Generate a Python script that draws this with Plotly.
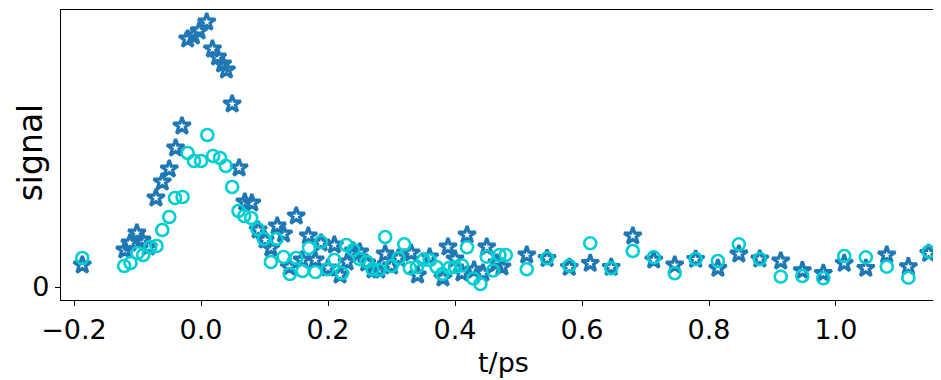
import plotly.graph_objects as go

# star series (t in ps, signal in arbitrary units)
star_t = [-0.187, -0.120, -0.112, -0.101, -0.093, -0.083, -0.071, -0.061, -0.050, -0.040,
          -0.030, -0.021, -0.012, -0.003, 0.009, 0.018, 0.026, 0.034, 0.040, 0.049,
          0.060, 0.069, 0.080, 0.090, 0.101, 0.110, 0.120, 0.130, 0.139, 0.150,
          0.159, 0.169, 0.180, 0.189, 0.200, 0.210, 0.219, 0.230, 0.240, 0.250,
          0.261, 0.271, 0.280, 0.290, 0.300, 0.311, 0.331, 0.341, 0.360, 0.381,
          0.389, 0.400, 0.411, 0.419, 0.430, 0.444, 0.450, 0.466, 0.474, 0.513,
          0.545, 0.580, 0.613, 0.646, 0.680, 0.713, 0.746, 0.779, 0.814, 0.847,
          0.880, 0.913, 0.947, 0.980, 1.013, 1.047, 1.080, 1.114, 1.146]
star_y = [0.22, 0.37, 0.44, 0.54, 0.47, 0.40, 0.89, 1.05, 1.18, 1.39,
          1.61, 2.48, 2.51, 2.56, 2.65, 2.38, 2.30, 2.23, 2.17, 1.83,
          1.19, 0.85, 0.84, 0.57, 0.47, 0.39, 0.61, 0.53, 0.20, 0.71,
          0.27, 0.51, 0.27, 0.44, 0.19, 0.42, 0.12, 0.25, 0.36, 0.35,
          0.24, 0.17, 0.17, 0.33, 0.21, 0.29, 0.34, 0.12, 0.30, 0.09,
          0.40, 0.28, 0.14, 0.52, 0.17, 0.14, 0.40, 0.24, 0.20, 0.32,
          0.285, 0.197, 0.237, 0.197, 0.51, 0.27, 0.22, 0.277, 0.187, 0.33,
          0.28, 0.26, 0.163, 0.137, 0.237, 0.187, 0.32, 0.203, 0.337]

# circle series
circ_t = [-0.187, -0.121, -0.111, -0.100, -0.091, -0.080, -0.070, -0.061, -0.050, -0.041,
          -0.029, -0.021, -0.011, 0.000, 0.010, 0.019, 0.030, 0.039, 0.049, 0.059,
          0.068, 0.079, 0.089, 0.099, 0.110, 0.119, 0.130, 0.140, 0.150, 0.160,
          0.170, 0.180, 0.189, 0.199, 0.210, 0.222, 0.229, 0.240, 0.250, 0.261,
          0.270, 0.280, 0.290, 0.300, 0.311, 0.320, 0.329, 0.340, 0.350, 0.360,
          0.371, 0.380, 0.391, 0.400, 0.411, 0.419, 0.429, 0.440, 0.450, 0.460,
          0.470, 0.480, 0.513, 0.545, 0.580, 0.613, 0.646, 0.680, 0.713, 0.746,
          0.779, 0.814, 0.847, 0.880, 0.913, 0.947, 0.980, 1.013, 1.047, 1.080,
          1.114, 1.146]
circ_y = [0.29, 0.21, 0.24, 0.34, 0.32, 0.40, 0.41, 0.57, 0.70, 0.89,
          0.90, 1.34, 1.26, 1.26, 1.52, 1.31, 1.29, 1.21, 1.00, 0.76,
          0.71, 0.69, 0.58, 0.48, 0.25, 0.48, 0.30, 0.13, 0.29, 0.16,
          0.39, 0.15, 0.45, 0.177, 0.27, 0.137, 0.42, 0.37, 0.28, 0.253,
          0.177, 0.17, 0.50, 0.21, 0.287, 0.427, 0.187, 0.20, 0.27, 0.27,
          0.20, 0.13, 0.19, 0.20, 0.215, 0.397, 0.085, 0.03, 0.303, 0.165,
          0.32, 0.32, 0.177, 0.287, 0.213, 0.437, 0.187, 0.36, 0.297, 0.137,
          0.28, 0.26, 0.427, 0.28, 0.103, 0.11, 0.087, 0.31, 0.297, 0.203,
          0.093, 0.353]

x_ticks = [-0.2, 0.0, 0.2, 0.4, 0.6, 0.8, 1.0]
x_tick_text = ["\u22120.2", "0.0", "0.2", "0.4", "0.6", "0.8", "1.0"]
y_ticks = [0]
y_tick_text = ["0"]

fig = go.Figure()
fig.add_trace(go.Scatter(
    x=star_t, y=star_y, mode="markers",
    marker=dict(symbol="star-open", size=13, color="#1f77b4",
                line=dict(width=3.2, color="#1f77b4")),
    showlegend=False))
fig.add_trace(go.Scatter(
    x=circ_t, y=circ_y, mode="markers",
    marker=dict(symbol="circle-open", size=12, color="#00CED1",
                line=dict(width=2.6, color="#00CED1")),
    showlegend=False))

font_family = "DejaVu Sans"
# the page body adds an 8px offset, so the figure is sized/margined to compensate
fig.update_layout(
    width=933, height=372,
    margin=dict(l=53, r=1, t=2, b=80),
    plot_bgcolor="white", paper_bgcolor="white",
    font=dict(family=font_family, color="black"),
    annotations=[
        dict(text="t/ps", xref="paper", yref="paper", x=0.503, y=-0.215,
             xanchor="center", yanchor="middle", showarrow=False,
             font=dict(size=27, family=font_family, color="black")),
        dict(text="signal", xref="paper", yref="paper", x=-0.035, y=0.51,
             xanchor="center", yanchor="middle", textangle=-90, showarrow=False,
             font=dict(size=33, family=font_family, color="black")),
    ],
)
fig.update_xaxes(
    range=[-0.2205, 1.1638], tickvals=x_ticks, ticktext=x_tick_text,
    automargin=False,
    showgrid=False, zeroline=False, showline=True, linecolor="black", linewidth=1.2,
    mirror=True, ticks="outside", ticklen=5, tickwidth=1.2, tickcolor="black",
    tickfont=dict(size=27, family=font_family),
)
fig.update_yaxes(
    range=[-0.13, 2.77], tickvals=y_ticks, ticktext=y_tick_text,
    automargin=False,
    showgrid=False, zeroline=False, showline=True, linecolor="black", linewidth=1.2,
    mirror=True, ticks="outside", ticklen=5, tickwidth=1.2, tickcolor="black",
    tickfont=dict(size=27, family=font_family),
)

fig.write_html("out.html")
